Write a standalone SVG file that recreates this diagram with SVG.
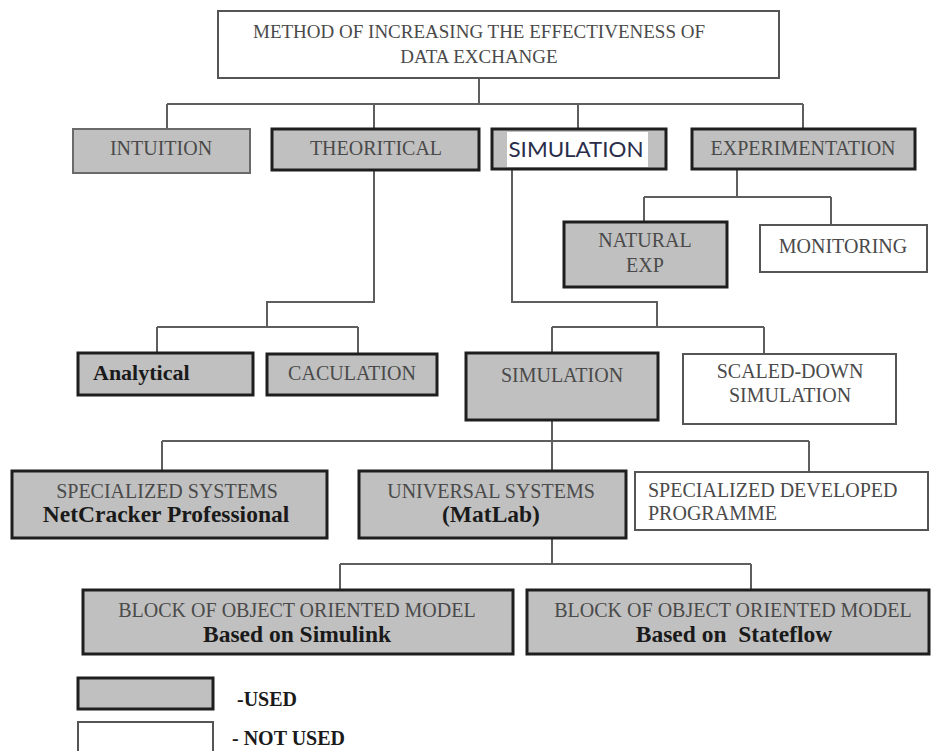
<svg xmlns="http://www.w3.org/2000/svg" width="931" height="751" viewBox="0 0 931 751">
<style>
.used{fill:#c0c0c0;stroke:#1e1e1e;stroke-width:3}
.usedthin{fill:#c0c0c0;stroke:#6a6a6a;stroke-width:2}
.unused{fill:#ffffff;stroke:#555;stroke-width:2}
.t{font-family:"Liberation Serif","Times New Roman",serif;font-size:20px;fill:#4a4a4a;text-anchor:middle}
.tl{font-family:"Liberation Serif","Times New Roman",serif;font-size:20px;fill:#4a4a4a}
.b{font-family:"Liberation Serif","Times New Roman",serif;font-size:23.5px;font-weight:bold;fill:#1a1a1a;text-anchor:middle}
.c{fill:none;stroke:#5e5e5e;stroke-width:2}
</style>
<rect width="931" height="751" fill="#ffffff"/>
<g id="connectors">
<path class="c" d="M479 78V104M167 104H803M167 104V129M374 104V129M578 104V129M803 104V129"/>
<path class="c" d="M374 170V302H267V327M157 327H358M157 327V353M358 327V354"/>
<path class="c" d="M512 169V302H657V327M552 327H764M552 327V353M764 327V354"/>
<path class="c" d="M737 169V197M644 197H831M644 197V222M831 197V225"/>
<path class="c" d="M552 420V471M162 441H809M162 441V471M809 441V472"/>
<path class="c" d="M552 538V564M340 564H751M340 564V590M751 564V590"/>
</g>
<g id="root">
<rect class="unused" x="218" y="11" width="561" height="67"/>
<text class="t" x="479" y="38" style="font-size:19px">METHOD OF INCREASING THE EFFECTIVENESS OF</text>
<text class="t" x="479" y="63" style="font-size:19px">DATA EXCHANGE</text>
</g>
<g id="intuition">
<rect class="usedthin" x="73" y="129" width="177" height="44"/>
<text class="t" x="161" y="155">INTUITION</text>
</g>
<g id="theoritical">
<rect class="used" x="272" y="129" width="207" height="41"/>
<text class="t" x="376" y="155">THEORITICAL</text>
</g>
<g id="simulation-top">
<rect class="used" x="492" y="129" width="174" height="40"/>
<rect x="507" y="132" width="141" height="35" fill="#ffffff"/>
<text x="576" y="157" style="font-family:Lato,'Open Sans',sans-serif;font-size:21px;fill:#2a2d4a;text-anchor:middle" textLength="135" lengthAdjust="spacingAndGlyphs">SIMULATION</text>
</g>
<g id="experimentation">
<rect class="used" x="692" y="129" width="223" height="40"/>
<text class="t" x="803" y="155">EXPERIMENTATION</text>
</g>
<g id="natural-exp">
<rect class="used" x="564" y="222" width="163" height="65"/>
<text class="t" x="645" y="247">NATURAL</text>
<text class="t" x="645" y="272">EXP</text>
</g>
<g id="monitoring">
<rect class="unused" x="760" y="225" width="167" height="47"/>
<text class="t" x="843" y="253">MONITORING</text>
</g>
<g id="analytical">
<rect class="used" x="78" y="353" width="175" height="42"/>
<text class="b" x="93" y="380" style="text-anchor:start;font-size:22px">Analytical</text>
</g>
<g id="caculation">
<rect class="used" x="267" y="354" width="170" height="41"/>
<text class="t" x="352" y="380">CACULATION</text>
</g>
<g id="simulation">
<rect class="used" x="466" y="353" width="192" height="67"/>
<text class="t" x="562" y="382">SIMULATION</text>
</g>
<g id="scaled-down">
<rect class="unused" x="683" y="354" width="213" height="70"/>
<text class="t" x="790" y="378">SCALED-DOWN</text>
<text class="t" x="790" y="402">SIMULATION</text>
</g>
<g id="specialized-systems">
<rect class="used" x="12" y="471" width="315" height="67"/>
<text class="t" x="167" y="498">SPECIALIZED SYSTEMS</text>
<text class="b" x="166" y="522">NetCracker Professional</text>
</g>
<g id="universal-systems">
<rect class="used" x="359" y="471" width="267" height="67"/>
<text class="t" x="491" y="498">UNIVERSAL SYSTEMS</text>
<text class="b" x="491" y="522">(MatLab)</text>
</g>
<g id="specialized-developed">
<rect class="unused" x="635" y="472" width="293" height="58"/>
<text class="tl" x="648" y="497">SPECIALIZED DEVELOPED</text>
<text class="tl" x="648" y="520">PROGRAMME</text>
</g>
<g id="block-simulink">
<rect class="used" x="83" y="590" width="430" height="64"/>
<text class="t" x="297" y="617">BLOCK OF OBJECT ORIENTED MODEL</text>
<text class="b" x="297" y="642">Based on Simulink</text>
</g>
<g id="block-stateflow">
<rect class="used" x="527" y="590" width="402" height="64"/>
<text class="t" x="733" y="617">BLOCK OF OBJECT ORIENTED MODEL</text>
<text class="b" x="734" y="642" xml:space="preserve">Based on  Stateflow</text>
</g>
<g id="legend">
<rect class="used" x="78" y="678" width="135" height="31"/>
<text x="237" y="706" style="font-family:'Liberation Serif',serif;font-size:20px;font-weight:bold;fill:#1a1a1a">-USED</text>
<rect class="unused" x="78" y="722" width="135" height="32"/>
<text x="232" y="745" style="font-family:'Liberation Serif',serif;font-size:20px;font-weight:bold;fill:#1a1a1a" xml:space="preserve">- NOT USED</text>
</g>
</svg>
